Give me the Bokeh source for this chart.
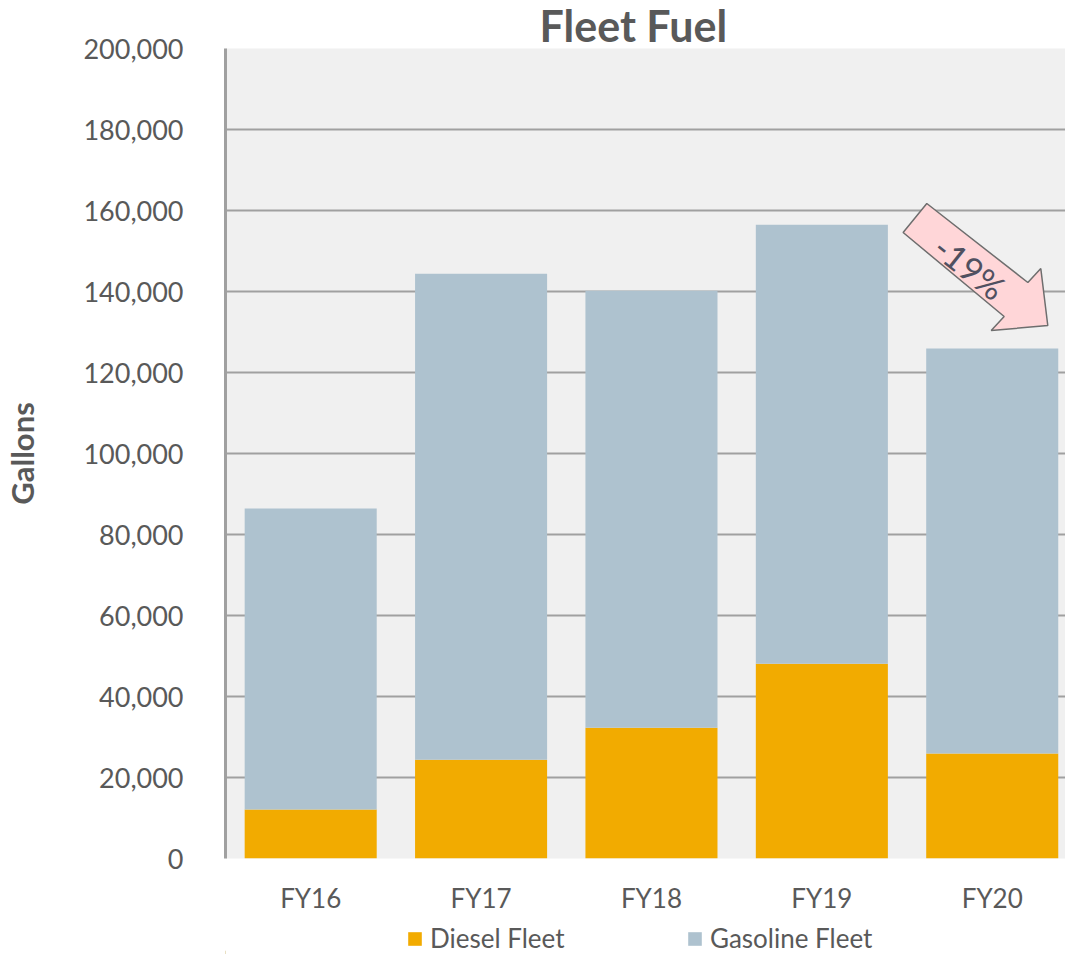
from bokeh.plotting import figure
from bokeh.layouts import column
from bokeh.models import (ColumnDataSource, Range1d, FixedTicker, NumeralTickFormatter,
                          Legend, LegendItem)
from bokeh.core.properties import value
from bokeh.embed import file_html
from bokeh.resources import INLINE

# ---- data ----
years = ["FY16", "FY17", "FY18", "FY19", "FY20"]
diesel = [12100, 24400, 32300, 48100, 25900]
gasoline = [74300, 120000, 107900, 108400, 100000]
y_ticks = [0, 20000, 40000, 60000, 80000, 100000, 120000, 140000, 160000, 180000, 200000]
series_names = ["Diesel Fleet", "Gasoline Fleet"]
change_label = "-19%"

FONT = "Lato"
TXT = "#595959"
DIESEL_C = "#F2AB00"
GAS_C = "#AEC2CF"

xpos = [i + 0.5 for i in range(len(years))]
src = ColumnDataSource(dict(x=xpos, diesel=diesel, gasoline=gasoline, years=years))

p = figure(width=1065, height=916, output_backend="svg", toolbar_location=None,
           x_range=Range1d(0, 4.93), y_range=Range1d(0, 200000),
           min_border_left=217, min_border_right=0, min_border_top=40, min_border_bottom=50)

p.background_fill_color = "#F0F0F0"
p.border_fill_color = "white"
p.outline_line_color = None

rs = p.vbar_stack(["diesel", "gasoline"], x="x", width=0.775, source=src,
                  color=[DIESEL_C, GAS_C], line_color=None)

# title
p.title.text = "Fleet Fuel"
p.title.text_font = FONT
p.title.text_font_size = "43px"
p.title.text_font_style = "bold"
p.title.text_color = TXT
p.title.align = "left"
p.title.offset = 314
p.title.standoff = -5

# y axis
p.yaxis.ticker = FixedTicker(ticks=y_ticks)
p.yaxis.formatter = NumeralTickFormatter(format="0,0")
p.yaxis.major_label_text_font = FONT
p.yaxis.major_label_text_font_size = "27px"
p.yaxis.major_label_text_color = TXT
p.yaxis.major_tick_line_color = None
p.yaxis.minor_tick_line_color = None
p.yaxis.major_label_standoff = 36
p.yaxis.axis_line_color = "#A0A0A0"
p.yaxis.axis_line_width = 3
p.yaxis.axis_label = "Gallons"
p.yaxis.axis_label_text_font = FONT
p.yaxis.axis_label_text_font_size = "31px"
p.yaxis.axis_label_text_font_style = "bold"
p.yaxis.axis_label_text_color = TXT
p.yaxis.axis_label_standoff = 39

# x axis
p.xaxis.ticker = FixedTicker(ticks=xpos)
p.xaxis.major_label_overrides = {x: y for x, y in zip(xpos, years)}
p.xaxis.major_label_text_font = FONT
p.xaxis.major_label_text_font_size = "26px"
p.xaxis.major_label_text_color = TXT
p.xaxis.major_tick_line_color = None
p.xaxis.minor_tick_line_color = None
p.xaxis.axis_line_color = None
p.xaxis.major_label_standoff = 17

p.xgrid.grid_line_color = None
p.ygrid.ticker = FixedTicker(ticks=y_ticks)
p.ygrid.grid_line_color = "#A0A0A0"
p.ygrid.grid_line_width = 1.8

# annotation arrow (-19%) from FY19 peak toward FY20
ax = [3.977, 4.116, 4.709, 4.785, 4.826, 4.494, 4.570]
ay = [154568, 161728, 142222, 145679, 131605, 130370, 133827]
p.patch(ax, ay, fill_color="#FFD6D8", line_color="#6E6E6E", line_width=1.5)
p.text(x=[4.37], y=[146000], text=[change_label], angle=-0.67,
       text_font=value(FONT), text_font_size="34px", text_color="#505060",
       text_align="center", text_baseline="middle")

# ---- legend strip below the chart ----
lg = figure(width=1065, height=38, output_backend="svg", toolbar_location=None,
            x_range=Range1d(0, 10), y_range=Range1d(0, 10),
            x_axis_location=None, y_axis_location=None,
            min_border=0, outline_line_color=None)
lg.grid.visible = False
lg.outline_line_alpha = 0
lg.background_fill_color = "white"
lg.border_fill_color = "white"
d1 = lg.vbar(x=[-100], top=[1], width=1, color=DIESEL_C, line_color=None)
d2 = lg.vbar(x=[-100], top=[1], width=1, color=GAS_C, line_color=None)
legend = Legend(items=[LegendItem(label=series_names[0], renderers=[d1]),
                       LegendItem(label=series_names[1], renderers=[d2])],
                orientation="horizontal", location=(181, 0))
legend.label_text_font = FONT
legend.label_text_font_size = "26px"
legend.label_text_line_height = 1.0
legend.label_text_color = TXT
legend.label_standoff = 7
legend.label_width = 246
legend.glyph_width = 17
legend.glyph_height = 17
legend.spacing = 10
legend.border_line_color = None
legend.background_fill_alpha = 0
legend.padding = 0
legend.margin = 0
lg.add_layout(legend, "center")

layout = column(p, lg, spacing=0)
open("out.html", "w").write(file_html(layout, INLINE))
